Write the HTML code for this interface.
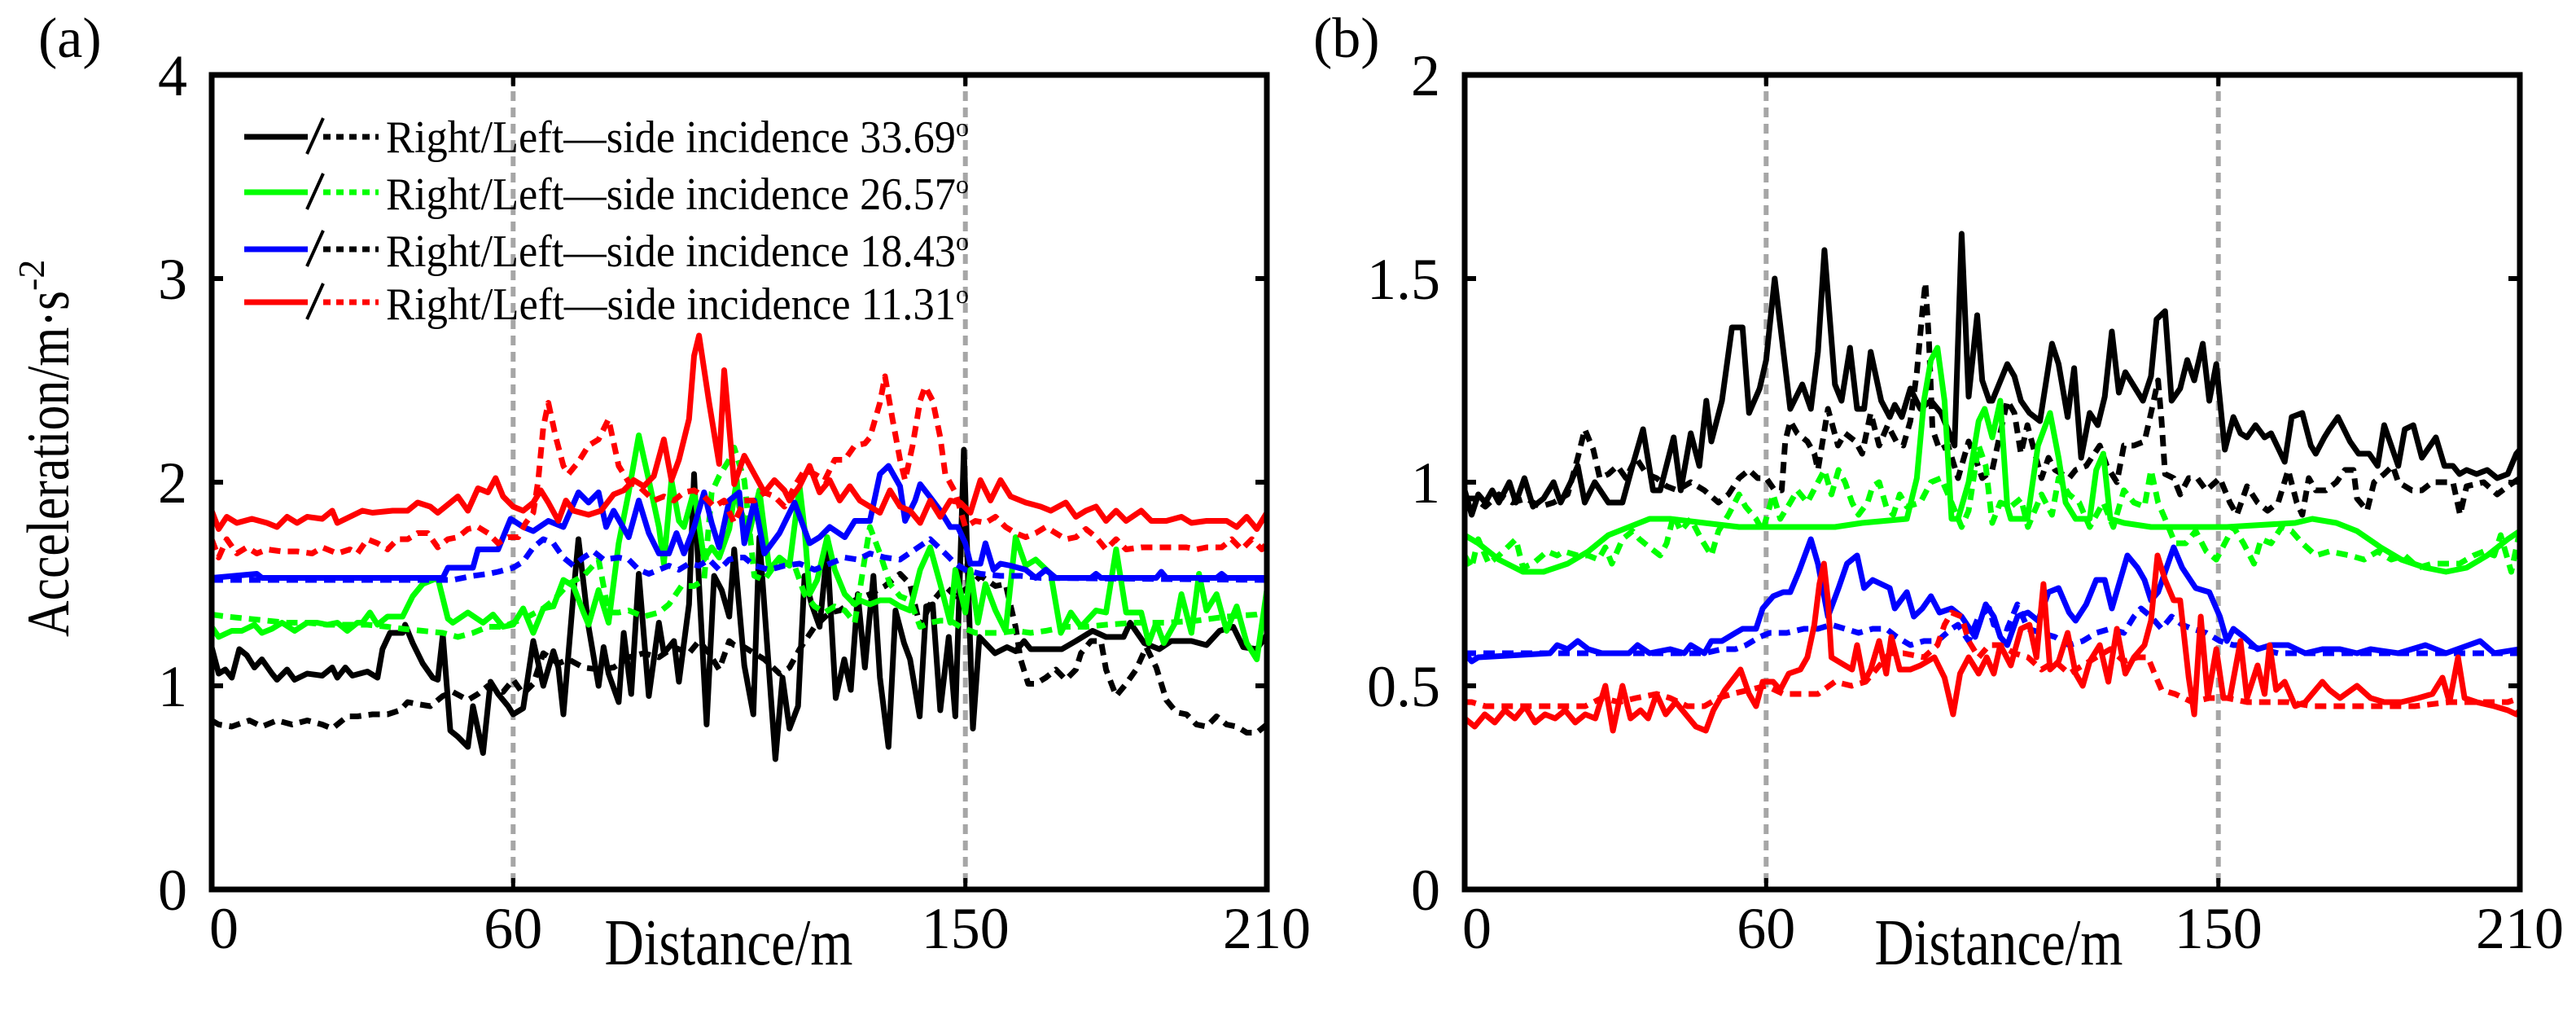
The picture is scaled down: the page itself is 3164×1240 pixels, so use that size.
<!DOCTYPE html>
<html><head><meta charset="utf-8"><style>
html,body{margin:0;padding:0;background:#fff;}
svg{display:block;font-family:"Liberation Serif",serif;}
</style></head><body>
<svg id="chart" width="3164" height="1240" viewBox="0 0 3164 1240" xmlns="http://www.w3.org/2000/svg">
<defs>
<clipPath id="clipA"><rect x="260" y="92" width="1296" height="1000"/></clipPath>
<clipPath id="clipB"><rect x="1799" y="92" width="1296" height="1000"/></clipPath>
</defs>
<g id="root"></g>
</svg>
<script>
// ---- data: [distance (m), acceleration (m/s^2)] ----
const xTicks = [0, 60, 150, 210];
const xTickLabels = ["0", "60", "150", "210"];
const aYTicks = [0, 1, 2, 3, 4];
const aYTickLabels = ["0", "1", "2", "3", "4"];
const bYTicks = [0, 0.5, 1, 1.5, 2];
const bYTickLabels = ["0", "0.5", "1", "1.5", "2"];
const gridDistances = [60, 150];
const legendLabels = ["Right/Left\u2014side incidence 33.69", "Right/Left\u2014side incidence 26.57", "Right/Left\u2014side incidence 18.43", "Right/Left\u2014side incidence 11.31"];

const aBlackRight = [[0,1.19],[1.4,1.06],[2.7,1.08],[4,1.04],[5.5,1.18],[7,1.15],[8.5,1.09],[10,1.13],[12,1.06],[13,1.03],[15,1.08],[16.5,1.03],[19,1.06],[22,1.05],[24,1.09],[25,1.04],[26.6,1.09],[28,1.05],[31,1.07],[33,1.04],[34,1.18],[35.5,1.26],[38,1.26],[38.5,1.3],[40,1.21],[42,1.11],[44,1.04],[45,1.03],[46,1.25],[47.5,0.78],[49,0.75],[51,0.7],[52,0.9],[54,0.67],[55.5,1.02],[57,0.96],[59,0.9],[60,0.86],[62,0.89],[64,1.22],[66,1.0],[68,1.17],[69,1.09],[70,0.86],[72,1.45],[73,1.72],[75,1.29],[77,1.0],[78,1.19],[79,1.06],[81,0.92],[82,1.26],[83.5,0.96],[85,1.55],[87,0.95],[89,1.31],[90,1.16],[92,1.22],[93,1.02],[95,1.4],[96,2.04],[97,1.5],[98.5,0.81],[100,1.54],[101.5,1.47],[103,1.34],[104,1.67],[106,1.1],[107.8,0.86],[109,1.73],[112.2,0.64],[113.6,1.04],[115,0.79],[116.7,0.9],[118,1.54],[119.4,1.4],[121,1.29],[122.5,1.67],[124.2,0.94],[125.9,1.13],[127.2,0.98],[128.6,1.45],[130,1.09],[131.7,1.54],[133,1.04],[134.7,0.7],[136.1,1.37],[137.8,1.21],[139,1.13],[140.9,0.85],[142.2,1.39],[143.5,1.4],[145,0.88],[146.7,1.24],[148,0.85],[149.7,2.16],[151.5,0.79],[152.8,1.24],[155.9,1.16],[158.3,1.19],[160,1.17],[161.7,1.22],[163,1.18],[169.2,1.18],[172,1.22],[175.3,1.27],[178,1.24],[181.5,1.24],[182.8,1.31],[185.6,1.21],[188.6,1.18],[191,1.22],[195,1.22],[198,1.2],[200.6,1.27],[203.3,1.29],[205.3,1.19],[208,1.18],[210,1.25]];
const aBlackLeft = [[0,0.83],[1.4,0.81],[4,0.8],[7.5,0.83],[10,0.8],[13,0.83],[16,0.81],[19,0.83],[22,0.81],[24,0.79],[27,0.85],[29,0.85],[32,0.86],[35,0.86],[37.5,0.88],[39,0.92],[41,0.91],[43.5,0.9],[46,0.95],[48,0.97],[51,0.93],[53,0.96],[55,1.0],[58,0.97],[60,1.03],[62,0.96],[64,1.01],[66,1.16],[69,1.11],[71,1.13],[74,1.09],[77,1.08],[80,1.09],[83,1.14],[86,1.16],[89,1.14],[92,1.19],[95,1.16],[97,1.22],[99,1.16],[101,1.08],[103,1.22],[104,1.2],[106,1.19],[108,1.16],[110,1.13],[113,1.06],[115,1.09],[117,1.18],[120,1.29],[123,1.36],[125,1.37],[128,1.42],[131,1.45],[134,1.49],[137,1.55],[139,1.5],[141,1.29],[143,1.4],[146,1.49],[148,1.44],[151,1.49],[153,1.54],[156,1.49],[158,1.5],[160,1.29],[161,1.13],[162.5,1.01],[164,1.01],[166,1.04],[168,1.08],[170,1.03],[172,1.08],[173,1.16],[175,1.22],[177,1.22],[178,1.08],[180,0.95],[182,1.01],[184,1.08],[186,1.19],[188,1.09],[190,0.93],[192,0.87],[194,0.86],[196,0.81],[198,0.8],[200,0.85],[202,0.81],[204,0.8],[206,0.77],[208,0.77],[210,0.81]];
const aGreenRight = [[0,1.29],[1.4,1.24],[4,1.27],[6,1.27],[8.5,1.3],[10,1.26],[12,1.28],[14,1.31],[16.5,1.27],[19,1.31],[21,1.31],[23,1.3],[25,1.31],[27,1.27],[29,1.31],[30,1.31],[31.5,1.36],[33,1.3],[35,1.34],[38,1.34],[40,1.44],[42,1.5],[45,1.53],[47,1.33],[48,1.31],[51,1.36],[54,1.31],[56,1.35],[58,1.29],[60,1.3],[62,1.38],[64,1.26],[66,1.38],[68,1.39],[70,1.52],[72,1.49],[74,1.36],[75,1.3],[77,1.47],[79,1.31],[81,1.7],[83,1.95],[85,2.23],[87,2.01],[89,1.78],[90,1.6],[91.5,2.01],[93,1.81],[94,1.78],[96,1.96],[98,1.62],[99.5,1.68],[101,1.63],[103,1.77],[104.5,2.01],[105,1.88],[107,1.75],[109,1.96],[111,1.57],[113,1.63],[115,1.59],[117,1.98],[118,1.77],[119,1.45],[120.5,1.52],[122.5,1.73],[124,1.57],[126,1.45],[128,1.4],[129,1.42],[131,1.4],[133,1.42],[135,1.42],[137,1.39],[139,1.37],[141,1.57],[143,1.68],[145,1.5],[147,1.31],[148,1.57],[150,1.36],[151,1.57],[152.5,1.31],[154,1.5],[156,1.37],[158,1.27],[160,1.73],[162,1.59],[164,1.62],[167,1.55],[169,1.26],[171,1.36],[173,1.29],[176,1.37],[178,1.36],[180,1.67],[182,1.36],[185,1.36],[186.5,1.21],[188,1.31],[189.5,1.21],[192,1.32],[193,1.45],[195,1.26],[196.5,1.55],[198,1.37],[200,1.45],[202,1.27],[204,1.39],[206,1.21],[208,1.13],[210,1.47]];
const aGreenLeft = [[0,1.35],[3,1.34],[7,1.33],[11,1.32],[15,1.31],[19,1.31],[23,1.3],[27,1.3],[31,1.3],[35,1.29],[38,1.28],[42,1.27],[46,1.26],[49,1.24],[52,1.26],[55,1.29],[58,1.29],[60,1.31],[63,1.34],[66,1.38],[68,1.42],[71,1.5],[74,1.54],[77,1.62],[79,1.36],[81,1.36],[83,1.37],[86,1.34],[89,1.36],[91,1.4],[93.5,1.49],[96,1.49],[98,1.52],[99.5,1.95],[101,2.03],[103,2.11],[104,2.17],[106,2.01],[108,1.54],[110,1.52],[112,1.59],[114,1.6],[116,1.59],[118,1.45],[120,1.39],[122,1.36],[124,1.39],[126,1.37],[128,1.31],[130,1.63],[131,1.78],[133,1.65],[135,1.5],[137,1.44],[139,1.42],[141,1.29],[143,1.31],[145,1.32],[147,1.32],[149,1.29],[152,1.26],[157,1.26],[160,1.27],[163,1.26],[166,1.27],[170,1.29],[174,1.29],[178,1.3],[184,1.31],[190,1.31],[196,1.32],[202,1.34],[208,1.35],[210,1.36]];
const aBlueRight = [[0,1.53],[9,1.55],[10,1.53],[46,1.53],[47,1.58],[52,1.58],[53,1.67],[57,1.67],[59.5,1.82],[62,1.78],[64,1.76],[67,1.81],[70,1.78],[73,1.95],[75,1.9],[77,1.95],[78.5,1.78],[80,1.86],[83,1.73],[85,1.91],[87,1.75],[89,1.65],[91,1.65],[92.5,1.75],[94,1.65],[96,1.78],[98,1.95],[99.5,1.8],[101,1.68],[103,1.91],[105,1.95],[106,1.7],[108,1.91],[110,1.65],[113,1.75],[116,1.9],[119,1.7],[121,1.73],[123,1.78],[126,1.73],[128,1.81],[131,1.81],[133,2.04],[134.7,2.08],[137,1.98],[138,1.81],[140,1.91],[141,1.99],[143.5,1.91],[145,1.86],[147,1.78],[148.5,1.78],[150,1.7],[151,1.6],[153,1.6],[154,1.7],[155.6,1.57],[157,1.6],[159,1.59],[162,1.57],[164,1.53],[166,1.57],[168,1.53],[175,1.53],[176,1.55],[177,1.53],[188,1.53],[189,1.56],[190,1.53],[200,1.53],[201,1.55],[202,1.53],[210,1.53]];
const aBlueLeft = [[0,1.52],[44,1.52],[48,1.52],[52,1.54],[55,1.55],[57,1.56],[60,1.58],[62,1.61],[64,1.68],[66,1.72],[68,1.7],[70,1.63],[72,1.59],[74,1.63],[76,1.66],[78,1.62],[81,1.63],[83,1.62],[85,1.57],[87,1.55],[89,1.57],[91,1.59],[93,1.57],[95,1.6],[97,1.59],[99,1.62],[101,1.57],[103,1.62],[104.5,1.63],[106,1.63],[108,1.59],[111,1.57],[114,1.59],[117,1.6],[120,1.57],[123,1.6],[126,1.63],[128.6,1.62],[131,1.65],[134,1.63],[137,1.62],[140,1.67],[143,1.72],[146,1.65],[148,1.6],[150,1.57],[153,1.55],[157,1.54],[161,1.54],[165,1.53],[210,1.52]];
const aRedRight = [[0,1.86],[1.4,1.77],[3,1.83],[5,1.8],[8,1.82],[11,1.8],[13,1.78],[15,1.83],[17,1.8],[19,1.83],[22,1.82],[24,1.86],[25,1.8],[27.5,1.83],[30,1.86],[32,1.85],[36,1.86],[39,1.86],[41,1.9],[43.5,1.88],[45,1.85],[47,1.89],[49,1.93],[51,1.86],[53,1.97],[55,1.95],[56.5,2.02],[58,1.93],[60,1.88],[62,1.86],[64,1.9],[65.5,1.96],[67,1.9],[69,1.81],[70.5,1.91],[72,1.86],[75,1.84],[77.5,1.86],[80,1.94],[82,1.96],[84,2.01],[86,1.98],[88,2.03],[90,2.21],[91.5,2.01],[93,2.11],[95,2.31],[96,2.62],[97,2.72],[99,2.39],[101,2.09],[102,2.55],[104,1.99],[106,2.13],[108,2.04],[110,1.95],[112,2.01],[114,1.96],[115,1.91],[117,1.98],[119,2.08],[121,1.95],[123,2.01],[125,1.91],[127,1.98],[129,1.91],[131,1.88],[133,1.85],[135,1.96],[137,1.88],[139,1.86],[141,1.8],[143,1.91],[145,1.83],[147,1.91],[149,1.9],[151,1.85],[153,2.01],[155,1.91],[157,2.01],[159,1.93],[162,1.9],[165,1.88],[167,1.86],[170,1.9],[172,1.83],[174,1.86],[176,1.88],[178,1.81],[180,1.86],[182,1.81],[185,1.86],[187,1.81],[190,1.81],[193,1.83],[195,1.8],[198,1.81],[202,1.81],[204,1.78],[206,1.83],[208,1.77],[210,1.85]];
const aRedLeft = [[0,1.72],[1.4,1.63],[3,1.72],[5,1.65],[7,1.68],[9,1.65],[11,1.67],[14,1.66],[17,1.66],[20,1.65],[22,1.68],[25,1.65],[27.5,1.67],[29,1.65],[31,1.72],[33,1.7],[35,1.67],[37,1.72],[39,1.72],[41,1.75],[43,1.75],[45,1.68],[47,1.72],[49,1.73],[51,1.77],[53,1.78],[55,1.75],[57,1.7],[59,1.73],[61,1.73],[62.5,1.8],[64,1.85],[65,2.01],[66,2.27],[67,2.39],[68.5,2.22],[70,2.08],[71,2.04],[73,2.1],[75,2.18],[77,2.21],[79,2.31],[81,2.08],[83,2.0],[85,1.98],[88,1.91],[90,1.93],[92,1.91],[94,1.95],[96,1.96],[98,1.93],[100,1.88],[102,1.91],[104,1.8],[106,1.91],[108,1.91],[110,1.95],[112,1.93],[114,1.88],[116,1.98],[118,2.06],[120,2.04],[122,2.01],[124,2.11],[126,2.11],[128,2.18],[130,2.19],[131,2.22],[133,2.39],[134,2.52],[135.5,2.31],[137,2.11],[138,2.01],[139.5,2.18],[141,2.4],[142,2.47],[143.5,2.4],[145,2.22],[146,2.04],[148,1.95],[150,1.78],[152,1.81],[154,1.8],[156,1.83],[158,1.78],[160,1.75],[162,1.73],[164,1.75],[166,1.78],[168,1.75],[170,1.72],[172,1.73],[174,1.77],[176,1.73],[178,1.67],[180,1.72],[182,1.67],[185,1.68],[188,1.68],[191,1.68],[194,1.68],[196,1.67],[198,1.68],[201,1.68],[203,1.72],[205,1.67],[207,1.72],[209,1.67],[210,1.7]];

const bBlackRight = [[0,.98],[1.4,.92],[2.7,.97],[4.1,.95],[5.5,.98],[6.8,.95],[8.9,1.0],[10.2,.95],[11.9,1.01],[13.6,.94],[15.7,.96],[17.7,1.0],[19.1,.95],[21.1,1.0],[22.5,1.04],[23.9,.95],[25.9,1.0],[28.6,.95],[31.4,.95],[33.4,1.04],[35.5,1.13],[37.5,.98],[38.9,.98],[41.6,1.11],[43,.98],[45,1.12],[46.7,1.04],[48.1,1.2],[49.1,1.1],[51.2,1.2],[53.2,1.38],[55.3,1.38],[56.6,1.17],[58.7,1.23],[60,1.3],[61.7,1.5],[64.8,1.18],[67.2,1.24],[68.9,1.18],[70.3,1.32],[71.6,1.57],[73.7,1.24],[75,1.2],[76.7,1.33],[78.1,1.18],[79.5,1.18],[80.8,1.32],[82.9,1.2],[84.6,1.16],[85.6,1.19],[87,1.16],[88.7,1.23],[90.7,1.18],[92.8,1.2],[94.8,1.17],[97.5,1.09],[98.9,1.61],[100.3,1.21],[102,1.41],[103,1.25],[104.4,1.2],[105,1.2],[108,1.29],[109.4,1.26],[110.7,1.2],[112.4,1.17],[114.5,1.15],[116.9,1.34],[118.2,1.29],[120,1.16],[121.3,1.28],[122.7,1.06],[124.4,1.17],[126,1.14],[127.4,1.21],[128.8,1.37],[130.2,1.22],[131.5,1.27],[135,1.2],[136.6,1.26],[137.7,1.4],[139.4,1.42],[140.7,1.2],[142.4,1.23],[143.8,1.3],[145.2,1.25],[146.9,1.34],[148.2,1.2],[149.6,1.29],[151.3,1.08],[153,1.16],[154.4,1.12],[155.7,1.11],[157.4,1.14],[159.2,1.11],[160.5,1.12],[163.2,1.05],[164.6,1.16],[166.7,1.17],[168.4,1.09],[169.4,1.07],[171.1,1.11],[172.1,1.13],[173.8,1.16],[176.2,1.1],[177.9,1.07],[180,1.07],[181.7,1.04],[183,1.14],[185.8,1.04],[187.1,1.13],[188.8,1.14],[190.5,1.06],[193.3,1.11],[195,1.04],[196.7,1.04],[198,1.02],[199.4,1.03],[201.4,1.02],[203.5,1.03],[205.5,1.01],[207.6,1.02],[209.3,1.07],[210,1.08]];
const bBlackLeft = [[0,.96],[2,.96],[4.1,.94],[6.8,.97],[9.5,.95],[12.3,.96],[15,.94],[17.7,.95],[20.5,.97],[22.5,1.06],[23.9,1.13],[25.6,1.08],[26.9,1.01],[28.6,1.02],[30.4,1.04],[32.1,1.01],[34.1,1.06],[36.2,1.02],[38.2,1.01],[40.2,.99],[42.3,.98],[45,1.0],[47.7,.98],[50.5,.95],[52.5,.97],[54.6,1.01],[56.6,1.03],[58.3,1.01],[60,1.01],[61.7,.98],[63.1,.98],[63.8,1.1],[64.8,1.15],[66.2,1.12],[68.2,1.1],[69.6,1.07],[70.3,1.03],[72.3,1.18],[74.3,1.09],[75.7,1.12],[77.8,1.1],[79.1,1.07],[80.8,1.17],[82.5,1.09],[84.2,1.14],[85.9,1.1],[87.3,1.09],[88.7,1.15],[90,1.27],[91.1,1.42],[91.7,1.49],[92.4,1.35],[93.1,1.13],[94.5,1.08],[96.2,1.09],[98.2,1.01],[100.3,1.1],[101.6,1.06],[103,1.01],[105,1.03],[108,1.2],[109.4,1.17],[110.7,1.07],[112,1.14],[114.8,1.01],[116.2,1.06],[117.5,1.03],[120.3,1.01],[121.6,1.03],[123.7,1.04],[126.4,1.09],[127.8,1.04],[129.8,1.0],[131.2,1.09],[133.2,1.09],[135.3,1.1],[136.6,1.17],[138,1.25],[138.7,1.15],[139.4,1.02],[141.1,1.01],[142.4,.97],[144.1,1.01],[145.8,1.01],[147.6,.98],[150.3,1.01],[152.3,.95],[153.7,.92],[155.7,.99],[157.8,.95],[159.8,.93],[161.9,.95],[163.9,1.03],[165.6,.95],[166.7,.92],[168,1.01],[169.4,.98],[171.4,.98],[173.5,1.0],[175.2,1.03],[176.9,1.03],[177.6,.96],[179.6,.93],[181,1.0],[183,1.02],[184.7,1.04],[185.8,1.0],[188.5,.98],[190.5,.98],[192.6,1.0],[196.7,1.0],[198.1,.92],[199.4,.99],[202.8,1.0],[205.5,.97],[207.6,.99],[210,1.01]];
const bGreenRight = [[0,.87],[2.7,.85],[6.8,.81],[11.6,.78],[15.7,.78],[20.5,.8],[24.6,.83],[28.6,.87],[32.7,.89],[36.8,.91],[40.9,.91],[47.7,.9],[54.6,.89],[61.4,.89],[68.2,.89],[73.7,.89],[79.1,.9],[88,.91],[90,1.01],[91.4,1.2],[92.8,1.3],[94.1,1.33],[95.5,1.2],[96.9,.91],[98.2,.91],[100.3,1.0],[102.3,1.15],[103.5,1.18],[105,1.11],[106.6,1.2],[108,.94],[108.7,.91],[112,.91],[114.1,1.09],[116.5,1.17],[118.2,1.06],[119.6,.95],[121.6,.91],[124.4,.91],[125.7,1.03],[127.1,1.07],[128.5,.91],[131.2,.9],[136.6,.89],[151.7,.89],[165.3,.9],[168.7,.91],[173.5,.9],[177.6,.88],[182.3,.84],[186.4,.81],[191.2,.79],[195.3,.78],[199.4,.79],[203.5,.82],[207.6,.86],[210,.88]];
const bGreenLeft = [[0,.82],[1.4,.79],[2.7,.86],[4.8,.8],[6.8,.82],[8.5,.84],[10.2,.86],[11.6,.79],[13.6,.8],[16.4,.83],[18.4,.82],[19.8,.83],[22.5,.82],[24.6,.82],[26.6,.81],[28,.84],[29.3,.8],[31.4,.86],[33.4,.88],[34.8,.86],[36.8,.84],[38.9,.82],[40.2,.85],[41.6,.92],[43,.88],[45,.91],[47.1,.86],[49.1,.82],[50.5,.88],[52.5,.92],[54.6,.97],[55.9,.94],[58,.91],[59.3,.88],[61.4,.97],[62.8,.91],[64.8,.95],[66.2,.98],[68.2,.95],[70.3,1.0],[71.6,1.03],[73,.97],[74.4,1.03],[75.7,1.0],[77.1,.95],[78.4,.92],[80.2,.95],[81.2,.99],[82.5,1.0],[83.9,.94],[85.3,.92],[86.6,.97],[88,.94],[90.7,.95],[92.8,1.0],[94.8,1.01],[96.9,.95],[98.9,.89],[100.3,.93],[102.3,1.09],[103.7,1.04],[105,.9],[106.6,.95],[108.7,.94],[110.7,.96],[112.1,.89],[114.8,.97],[116.9,.92],[118.2,1.01],[120.3,.97],[122.3,.95],[124.4,.89],[127.1,.95],[129.1,.89],[131.2,.98],[133.2,.95],[135.3,.94],[136.6,1.03],[138,.95],[139.4,.91],[141.4,.85],[143.5,.85],[145.5,.88],[147.6,.83],[149.6,.81],[151.7,.86],[153,.89],[155,.85],[157.1,.8],[158.5,.86],[160.5,.85],[162.6,.89],[164.6,.88],[166.7,.85],[169.4,.82],[172.1,.83],[176.2,.82],[179,.81],[181.7,.83],[184.4,.81],[187.1,.82],[189.8,.79],[192.6,.8],[195.3,.8],[198,.8],[200.8,.82],[202.8,.83],[204.9,.82],[206.2,.87],[208.3,.78],[210,.88]];
const bBlueRight = [[0,.58],[1.4,.56],[2.7,.57],[17,.58],[18.4,.6],[20.5,.59],[22.5,.61],[24.6,.59],[27.3,.58],[32.7,.58],[34.4,.6],[36.8,.58],[40.9,.59],[43.7,.58],[45,.6],[47.7,.58],[49.1,.61],[51.2,.61],[53.9,.63],[55.3,.64],[58,.64],[59.3,.69],[61.4,.72],[63.4,.73],[64.8,.73],[66.5,.78],[68.9,.86],[70.3,.8],[72.3,.67],[74.4,.74],[76.1,.8],[78.1,.82],[79.5,.74],[81.2,.76],[82.9,.75],[84.6,.74],[85.6,.69],[88,.73],[89.4,.67],[91.1,.69],[92.8,.72],[94.5,.68],[96.9,.69],[98.9,.67],[101.6,.62],[103.7,.7],[105.3,.67],[106.6,.62],[108,.6],[110,.67],[112.1,.68],[114.1,.66],[116.2,.73],[118.2,.74],[120.3,.68],[121.6,.66],[123.7,.7],[125.7,.76],[127.4,.76],[128.8,.69],[131.9,.82],[133.9,.79],[135.3,.76],[136.6,.71],[138,.73],[141.1,.84],[142.8,.79],[145.5,.74],[148.2,.73],[150.3,.67],[151.7,.61],[153,.64],[155.1,.62],[157.8,.59],[160.5,.6],[163.9,.6],[167.3,.58],[170.7,.59],[174.2,.59],[177.6,.58],[180.3,.59],[185.8,.58],[191.2,.6],[195.3,.58],[202.1,.61],[204.9,.58],[210,.59]];
const bBlueLeft = [[0,.58],[47.7,.58],[51.2,.59],[53.9,.59],[56,.6],[58.7,.62],[60.7,.63],[64.1,.63],[67.5,.64],[70.3,.64],[73,.65],[75.7,.64],[78.4,.63],[81.2,.64],[83.9,.64],[86,.62],[88.7,.6],[91.4,.61],[94.1,.61],[96.9,.64],[98.2,.65],[100.3,.61],[102.3,.67],[104.4,.69],[105.3,.65],[108,.64],[110,.7],[112.1,.64],[114.8,.63],[117.5,.62],[120.3,.6],[123,.61],[125.7,.63],[128.5,.64],[131.2,.63],[133.2,.67],[134.6,.69],[136.6,.67],[138.7,.64],[140.7,.67],[142.8,.65],[144.8,.64],[147.6,.63],[150.3,.61],[153,.6],[155.7,.6],[158.5,.59],[161.9,.58],[210,.58]];
const bRedRight = [[0,.42],[2,.4],[4,.43],[6,.41],[8,.44],[10,.42],[12,.45],[14,.41],[16,.43],[18,.42],[20,.44],[22,.41],[24,.43],[26,.42],[28,.5],[29.5,.39],[31.4,.5],[33,.42],[35,.44],[36.5,.42],[38.2,.48],[40,.43],[42,.46],[44,.43],[46,.4],[48,.39],[49.5,.44],[51.8,.49],[54.9,.54],[56.6,.48],[58,.45],[59.3,.51],[61.4,.51],[62.8,.49],[64.5,.53],[66.8,.54],[68.2,.57],[69.6,.65],[70.6,.75],[71.5,.8],[72.3,.71],[73,.57],[75.7,.55],[77.1,.54],[78.1,.6],[79.5,.51],[80.8,.54],[82.5,.61],[83.9,.53],[84.9,.62],[86.6,.54],[88.7,.54],[90.7,.55],[93.5,.57],[95.5,.52],[97.2,.43],[98.6,.53],[100.3,.57],[102.3,.53],[103.9,.57],[105.3,.53],[106.6,.6],[108.7,.55],[110.7,.64],[112.4,.65],[113.8,.57],[115.2,.75],[116.5,.54],[118.2,.56],[120,.63],[121.6,.53],[123,.5],[124.4,.56],[126.4,.6],[128.1,.51],[129.8,.64],[131.5,.53],[133.2,.57],[135.3,.6],[136.6,.66],[137.9,.82],[139.4,.76],[141.1,.71],[142.4,.71],[144.1,.52],[145.2,.43],[146.5,.67],[147.9,.47],[149.6,.59],[151,.47],[152.3,.47],[154.4,.61],[155.7,.47],[157.8,.55],[159.2,.48],[160.2,.6],[161.5,.49],[163.2,.51],[165.3,.45],[167.3,.46],[170.7,.51],[172.1,.49],[174.2,.47],[177.6,.5],[180.3,.47],[183,.46],[186.4,.46],[189.8,.47],[192.6,.48],[194.6,.52],[196,.46],[197.7,.57],[199,.47],[201.4,.46],[204.9,.45],[207.6,.44],[209.3,.43],[210,.44]];
const bRedLeft = [[0,.46],[1.4,.46],[4.1,.45],[10,.45],[17,.45],[24,.45],[27.3,.47],[30.7,.46],[34.1,.47],[38.2,.48],[40.9,.47],[44.3,.45],[47.7,.45],[50.5,.47],[53.2,.48],[56.6,.49],[60,.5],[63.4,.48],[66.8,.48],[70.3,.48],[73.7,.51],[77,.5],[79.8,.51],[81.9,.54],[84.6,.58],[87.3,.58],[91.4,.57],[94.1,.6],[95.5,.65],[96.9,.68],[98.9,.67],[100.3,.61],[102.3,.57],[104.4,.6],[106.6,.6],[109.4,.58],[112.1,.57],[114.8,.54],[117.5,.56],[120.3,.53],[123,.55],[125.7,.57],[128.5,.59],[131.2,.56],[133.9,.57],[136,.57],[137.3,.53],[138.7,.49],[141.4,.48],[144.8,.46],[148.2,.47],[151.7,.47],[155.7,.46],[160.5,.46],[163.9,.46],[168.7,.45],[175.5,.45],[182.3,.45],[189.1,.45],[195.9,.46],[202.8,.46],[207.6,.46],[210,.47]];

const NS = "http://www.w3.org/2000/svg";
const root = document.getElementById("root");
function mk(tag, attrs, parent) {
  const e = document.createElementNS(NS, tag);
  for (const k in attrs) e.setAttribute(k, attrs[k]);
  (parent || root).appendChild(e);
  return e;
}
const panels = [
  {id: "a", x0: 260, x1: 1556, y0: 92, y1: 1092, ymax: 4, yTicks: aYTicks, yLabels: aYTickLabels, clip: "clipA", label: "(a)", labelX: 47, titleX: 895,
   series: [[aBlackRight, "#000", false, "black-right"], [aBlackLeft, "#000", true, "black-left"], [aGreenRight, "#00ff00", false, "green-right"], [aGreenLeft, "#00ff00", true, "green-left"], [aBlueRight, "#0000ff", false, "blue-right"], [aBlueLeft, "#0000ff", true, "blue-left"], [aRedRight, "#ff0000", false, "red-right"], [aRedLeft, "#ff0000", true, "red-left"]]},
  {id: "b", x0: 1799, x1: 3095, y0: 92, y1: 1092, ymax: 2, yTicks: bYTicks, yLabels: bYTickLabels, clip: "clipB", label: "(b)", labelX: 1613, titleX: 2455,
   series: [[bBlackRight, "#000", false, "black-right"], [bBlackLeft, "#000", true, "black-left"], [bGreenRight, "#00ff00", false, "green-right"], [bGreenLeft, "#00ff00", true, "green-left"], [bBlueRight, "#0000ff", false, "blue-right"], [bBlueLeft, "#0000ff", true, "blue-left"], [bRedRight, "#ff0000", false, "red-right"], [bRedLeft, "#ff0000", true, "red-left"]]}
];
panels.forEach(p => {
  const sx = d => p.x0 + (p.x1 - p.x0) * d / 210;
  const sy = v => p.y1 - (p.y1 - p.y0) * v / p.ymax;
  const g = mk("g", {});
  
  
  gridDistances.forEach(d => {
    const l = mk("line", {x1: sx(d), x2: sx(d), y1: p.y0, y2: p.y1, stroke: "#a6a6a6", "stroke-width": 6, "stroke-dasharray": "12 8"}, g);
    
    
  });
  p.series.forEach(s => {
    const pts = s[0].map(q => sx(q[0]).toFixed(1) + "," + sy(q[1]).toFixed(1)).join(" ");
    const attrs = {points: pts, fill: "none", stroke: s[1], "stroke-width": 7, "stroke-linejoin": "round", "clip-path": "url(#" + p.clip + ")"};
    if (s[2]) attrs["stroke-dasharray"] = "14 9";
    const pl = mk("polyline", attrs, g);
    
    
  });
  const fr = mk("rect", {x: p.x0, y: p.y0, width: p.x1 - p.x0, height: p.y1 - p.y0, fill: "none", stroke: "#000", "stroke-width": 7}, g);
  
  
  p.yTicks.forEach((v, i) => {
    const y = sy(v);
    mk("line", {x1: p.x0, x2: p.x0 + 14, y1: y, y2: y, stroke: "#000", "stroke-width": 6}, g);
    mk("line", {x1: p.x1, x2: p.x1 - 14, y1: y, y2: y, stroke: "#000", "stroke-width": 6}, g);
    const t = mk("text", {x: p.x0 - 30, y: y + 25, "text-anchor": "end", "font-size": 72}, g);
    t.textContent = p.yLabels[i];
    
    
  });
  xTicks.forEach((d, i) => {
    const x = sx(d);
    mk("line", {x1: x, x2: x, y1: p.y1, y2: p.y1 - 14, stroke: "#000", "stroke-width": 5}, g);
    mk("line", {x1: x, x2: x, y1: p.y0, y2: p.y0 + 14, stroke: "#000", "stroke-width": 5}, g);
    const t = mk("text", {x: d === 0 ? x + 15 : x, y: 1164, "text-anchor": "middle", "font-size": 72}, g);
    t.textContent = xTickLabels[i];
    
    
  });
  const xt = mk("text", {x: p.titleX, y: 1184, "text-anchor": "middle", "font-size": 80, textLength: 305, lengthAdjust: "spacingAndGlyphs"}, g);
  xt.textContent = "Distance/m";
  
  
  const pl = mk("text", {x: p.labelX, y: 70, "font-size": 70}, g);
  pl.textContent = p.label;
  
  
});
const yt = mk("text", {transform: "translate(84,782) rotate(-90)", "font-size": 74}, root);


const ytMain = mk("tspan", {textLength: 425, lengthAdjust: "spacingAndGlyphs"}, yt);
ytMain.textContent = "Acceleration/m\u00B7s";
const ytSup = mk("tspan", {dy: -30, "font-size": 46}, yt);
ytSup.textContent = "-2";
const legColors = [["#000", "#000"], ["#00ff00", "#00ff00"], ["#0000ff", "#000"], ["#ff0000", "#ff0000"]];
const legY = [168, 236, 306, 371];
const legBase = [187, 257, 327, 392];
legendLabels.forEach((lab, i) => {
  const g = mk("g", {});
  
  
  const y = legY[i];
  mk("line", {x1: 300, x2: 378, y1: y, y2: y, stroke: legColors[i][0], "stroke-width": 7}, g);
  mk("line", {x1: 397, x2: 465, y1: y, y2: y, stroke: legColors[i][1], "stroke-width": 7, "stroke-dasharray": "9 7"}, g);
  mk("line", {x1: 377, x2: 397, y1: y + 21, y2: y - 23, stroke: "#000", "stroke-width": 4}, g);
  const t = mk("text", {x: 474, y: legBase[i], "font-size": 56}, g);
  const ts = mk("tspan", {textLength: 700, lengthAdjust: "spacingAndGlyphs"}, t);
  ts.textContent = lab;
  const deg = mk("tspan", {dy: -20, "font-size": 32}, t);
  deg.textContent = "o";
});
</script>
</body></html>
